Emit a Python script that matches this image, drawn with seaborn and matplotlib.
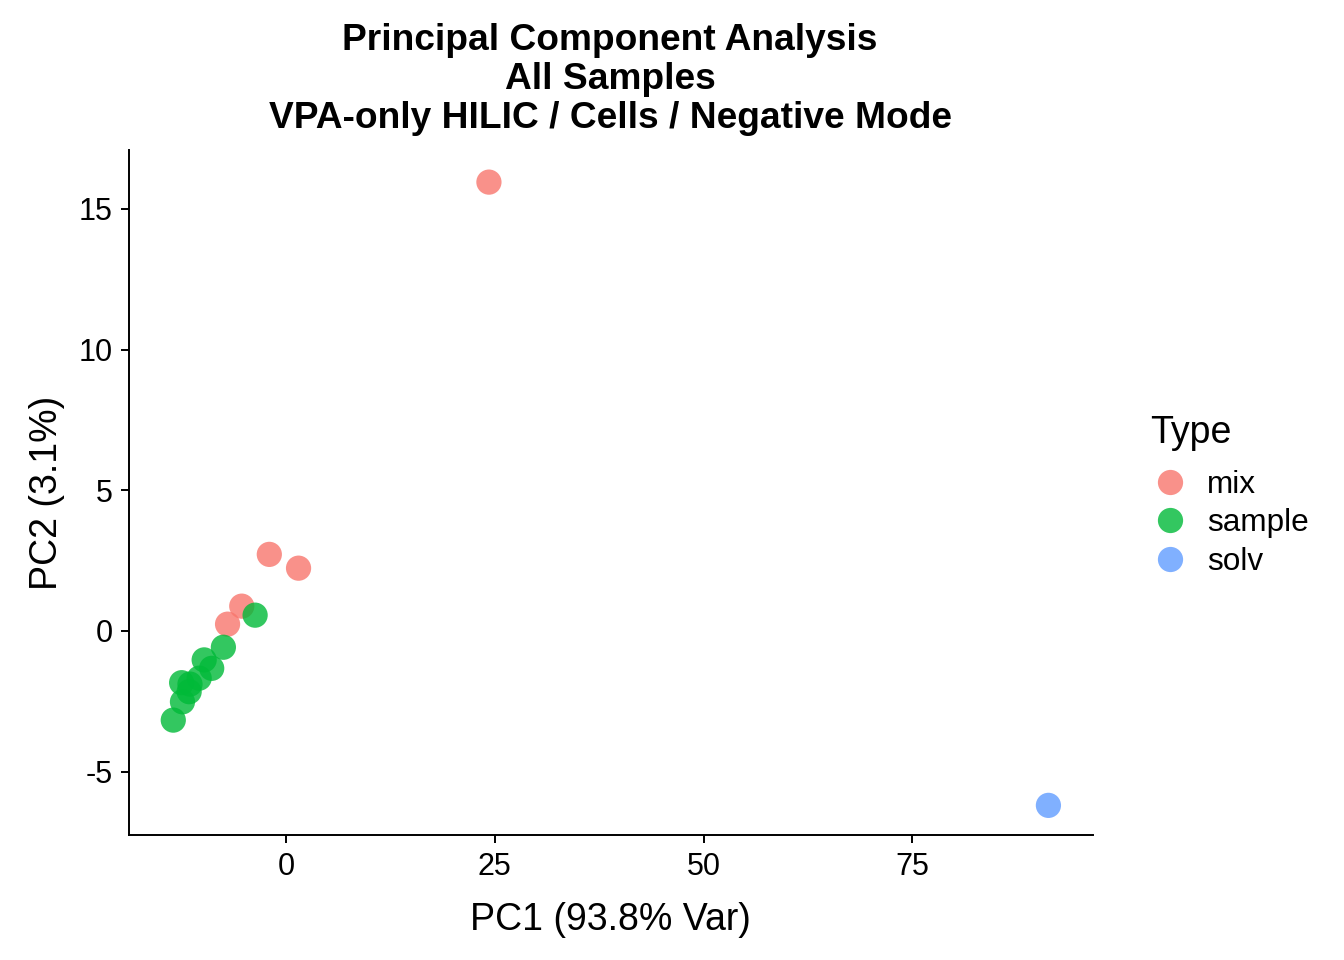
import matplotlib
matplotlib.use("Agg")
import matplotlib.pyplot as plt
import seaborn as sns
import pandas as pd
import numpy as np

# PCA scores
pc1_mix = [24.3, -2.0, 1.5, -5.3, -7.0]
pc2_mix = [15.95, 2.72, 2.23, 0.88, 0.24]
pc1_sample = [-3.7, -7.5, -9.8, -8.9, -10.4, -12.5, -11.5, -11.6, -12.4, -13.5]
pc2_sample = [0.56, -0.58, -1.03, -1.33, -1.68, -1.84, -1.89, -2.16, -2.52, -3.17]
pc1_solv = [91.3]
pc2_solv = [-6.2]

types = ["mix", "sample", "solv"]
colors = {"mix": "#F8766D", "sample": "#00BA38", "solv": "#619CFF"}

df = pd.DataFrame({
    "PC1": pc1_mix + pc1_sample + pc1_solv,
    "PC2": pc2_mix + pc2_sample + pc2_solv,
    "Type": ["mix"] * len(pc1_mix) + ["sample"] * len(pc1_sample) + ["solv"] * len(pc1_solv),
})

sns.set_style("ticks")
plt.rcParams['font.family'] = ['Liberation Sans', 'DejaVu Sans']
plt.rcParams['text.color'] = 'black'
plt.rcParams['axes.labelcolor'] = 'black'

fig = plt.figure(figsize=(13.44, 9.6), dpi=100)
ax = fig.add_axes([0.096, 0.130, 0.717, 0.714])

sns.scatterplot(data=df, x="PC1", y="PC2", hue="Type", hue_order=types,
                palette=colors, s=330, alpha=0.8, linewidth=0, ax=ax)

ax.set_xlim(-18.8, 96.6)
ax.set_ylim(-7.26, 17.1)
ax.set_xticks([0, 25, 50, 75])
ax.set_yticks([-5, 0, 5, 10, 15])
ax.set_xticklabels(["0", "25", "50", "75"])
ax.set_yticklabels(["-5", "0", "5", "10", "15"])
ax.tick_params(axis="both", labelsize=22, length=5.8, width=1.4, color="black",
               labelcolor="black", pad=6)
for side in ["top", "right"]:
    ax.spines[side].set_visible(False)
for side in ["left", "bottom"]:
    ax.spines[side].set_linewidth(1.4)
    ax.spines[side].set_color("black")

ax.set_xlabel("PC1 (93.8% Var)", fontsize=27, labelpad=15)
ax.set_ylabel("PC2 (3.1%)", fontsize=27, labelpad=10)

fig.text(0.454, 0.976,
         "Principal Component Analysis\nAll Samples\nVPA-only HILIC / Cells / Negative Mode",
         ha="center", va="top", fontsize=26.7, fontweight="bold", linespacing=1.14)

# legend title placed on its own so the gap to the entries matches
fig.text(0.8555, 1 - 433 / 960, "Type", ha="left", va="center", fontsize=27)

handles, labels = ax.get_legend_handles_labels()
ax.legend(handles, labels, loc="upper left",
          bbox_to_anchor=(0.836, 0.5404), bbox_transform=fig.transFigure,
          frameon=False, fontsize=22.7, markerscale=1.0,
          handlelength=1.15, handletextpad=0.6, labelspacing=0.28)

fig.savefig("out.png", dpi=100)
